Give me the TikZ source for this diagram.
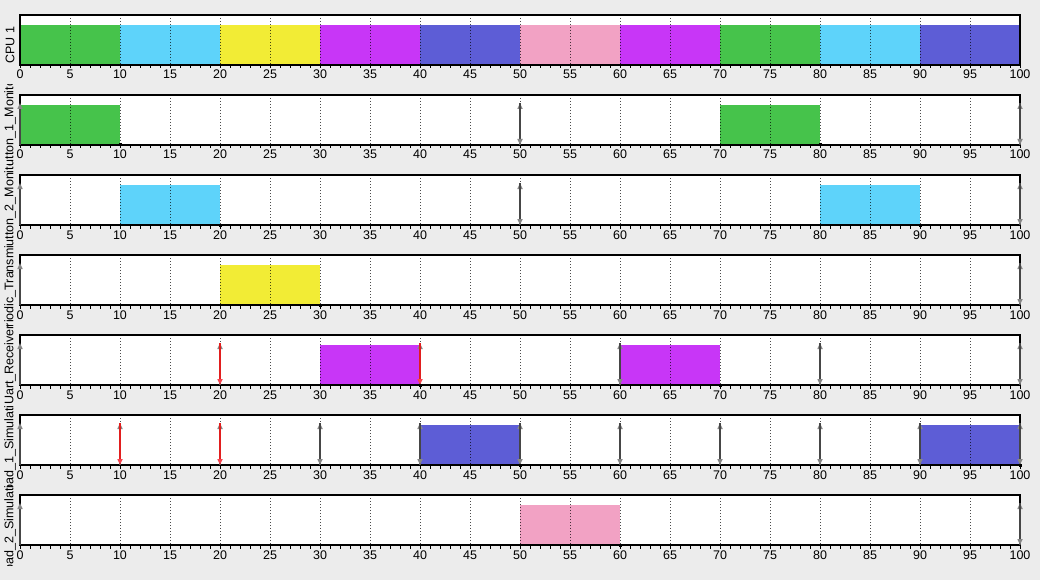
\documentclass[tikz,border=0pt]{standalone}
\usepackage{fontspec}
\setmainfont{Liberation Sans}
\usetikzlibrary{arrows.meta}
\definecolor{bgc}{RGB}{236,236,236}
\definecolor{cgreen}{RGB}{70,195,75}
\definecolor{ccyan}{RGB}{94,211,250}
\definecolor{cyellow}{RGB}{242,236,53}
\definecolor{cmag}{RGB}{200,54,247}
\definecolor{cblue}{RGB}{93,93,214}
\definecolor{cpink}{RGB}{242,162,196}
\definecolor{evgray}{RGB}{70,70,70}
\definecolor{hdgray}{RGB}{135,135,135}
\definecolor{evred}{RGB}{225,30,30}
\definecolor{hdred}{RGB}{245,70,80}
\tikzset{
  panel/.style={draw=black, line width=1.2pt},
  gridln/.style={black, opacity=0.7, line width=1pt, dash pattern=on 1pt off 2pt},
  tickln/.style={black, line width=1pt},
  ticklbl/.style={anchor=base, inner sep=0pt, font=\fontsize{12.5}{14}\selectfont},
  rowlbl/.style={rotate=90, inner sep=0pt, font=\fontsize{12.5}{14}\selectfont},
  evline/.style={line width=1.7pt, draw=evgray},
  uphead/.style={-{Triangle[length=6pt,width=5pt,color=hdgray]}},
}
\newcommand\jobbar[4]{\fill[#4] (20+10*#2, 25+80*#1) rectangle (20+10*#3, 65+80*#1);}
\newcommand\relarr[2]{\draw[evline, uphead] (20+10*#2, 65+80*#1) -- (20+10*#2, 23+80*#1);}
\newcommand\dlarr[4]{\draw[evline, draw=#3, -{Triangle[length=6pt,width=5pt,color=#4]}] (20+10*#2, 23+80*#1) -- (20+10*#2, 65+80*#1);}
\newcommand\finmark[2]{\fill[black] (20+10*#2-1.5, 65+80*#1-1.5) rectangle (20+10*#2+1.5, 65+80*#1+1.5);}
\begin{document}
\begin{tikzpicture}[x=1pt,y=-1pt]
\useasboundingbox (0,0) rectangle (1040,580);
\fill[bgc] (0,0) rectangle (1040,580);
% panels
\foreach \r in {0,...,6}{
  \fill[white] (20, 15+80*\r) rectangle (1020, 65+80*\r);
}
% bars CPU
\jobbar{0}{0}{10}{cgreen}
\jobbar{0}{10}{20}{ccyan}
\jobbar{0}{20}{30}{cyellow}
\jobbar{0}{30}{40}{cmag}
\jobbar{0}{40}{50}{cblue}
\jobbar{0}{50}{60}{cpink}
\jobbar{0}{60}{70}{cmag}
\jobbar{0}{70}{80}{cgreen}
\jobbar{0}{80}{90}{ccyan}
\jobbar{0}{90}{100}{cblue}
% task bars
\jobbar{1}{0}{10}{cgreen}
\jobbar{1}{70}{80}{cgreen}
\jobbar{2}{10}{20}{ccyan}
\jobbar{2}{80}{90}{ccyan}
\jobbar{3}{20}{30}{cyellow}
\jobbar{4}{30}{40}{cmag}
\jobbar{4}{60}{70}{cmag}
\jobbar{5}{40}{50}{cblue}
\jobbar{5}{90}{100}{cblue}
\jobbar{6}{50}{60}{cpink}
% grid, borders, ticks, labels
\foreach \r in {0,...,6}{
  \foreach \k in {5,10,...,95}{
    \draw[gridln] (20+10*\k, 15+80*\r) -- (20+10*\k, 65+80*\r);
  }
  \draw[panel] (20, 15+80*\r) rectangle (1020, 65+80*\r);
  \foreach \k in {0,...,100}{
    \draw[tickln] (20+10*\k, 65+80*\r) -- (20+10*\k, 68.5+80*\r);
  }
  \foreach \k in {0,5,...,100}{
    \node[ticklbl] (lbl-\r-\k) at (20+10*\k, 79+80*\r) {\k};
  }
}
% events
\relarr{1}{0}
\relarr{1}{50}\dlarr{1}{50}{evgray}{hdgray}
\relarr{1}{100}\dlarr{1}{100}{evgray}{hdgray}
\finmark{1}{10}\finmark{1}{80}
\relarr{2}{0}
\relarr{2}{50}\dlarr{2}{50}{evgray}{hdgray}
\relarr{2}{100}\dlarr{2}{100}{evgray}{hdgray}
\finmark{2}{20}\finmark{2}{90}
\relarr{3}{0}
\relarr{3}{100}\dlarr{3}{100}{evgray}{hdgray}
\finmark{3}{30}
\relarr{4}{0}
\relarr{4}{20}\dlarr{4}{20}{evred}{hdred}
\relarr{4}{40}\dlarr{4}{40}{evred}{hdred}
\relarr{4}{60}\dlarr{4}{60}{evgray}{hdgray}
\relarr{4}{80}\dlarr{4}{80}{evgray}{hdgray}
\relarr{4}{100}\dlarr{4}{100}{evgray}{hdgray}
\finmark{4}{40}\finmark{4}{70}
\relarr{5}{0}
\relarr{5}{10}\dlarr{5}{10}{evred}{hdred}
\relarr{5}{20}\dlarr{5}{20}{evred}{hdred}
\foreach \t in {30,40,50,60,70,80,90,100}{
  \relarr{5}{\t}\dlarr{5}{\t}{evgray}{hdgray}
}
\finmark{5}{50}\finmark{5}{100}
\relarr{6}{0}
\relarr{6}{100}\dlarr{6}{100}{evgray}{hdgray}
\finmark{6}{60}
% row labels (clipped)
\foreach \r/\nm in {0/CPU 1,1/Button\_1\_Monitor,2/Button\_2\_Monitor,3/Periodic\_Transmitter,4/Uart\_Receiver,5/Load\_1\_Simulation,6/Load\_2\_Simulation}{
  \begin{scope}
    \clip (0, 5+80*\r) rectangle (18.5, 85+80*\r);
    \node[rowlbl] (row-\r) at (10, 45+80*\r) {\nm};
  \end{scope}
}
\end{tikzpicture}
\end{document}
